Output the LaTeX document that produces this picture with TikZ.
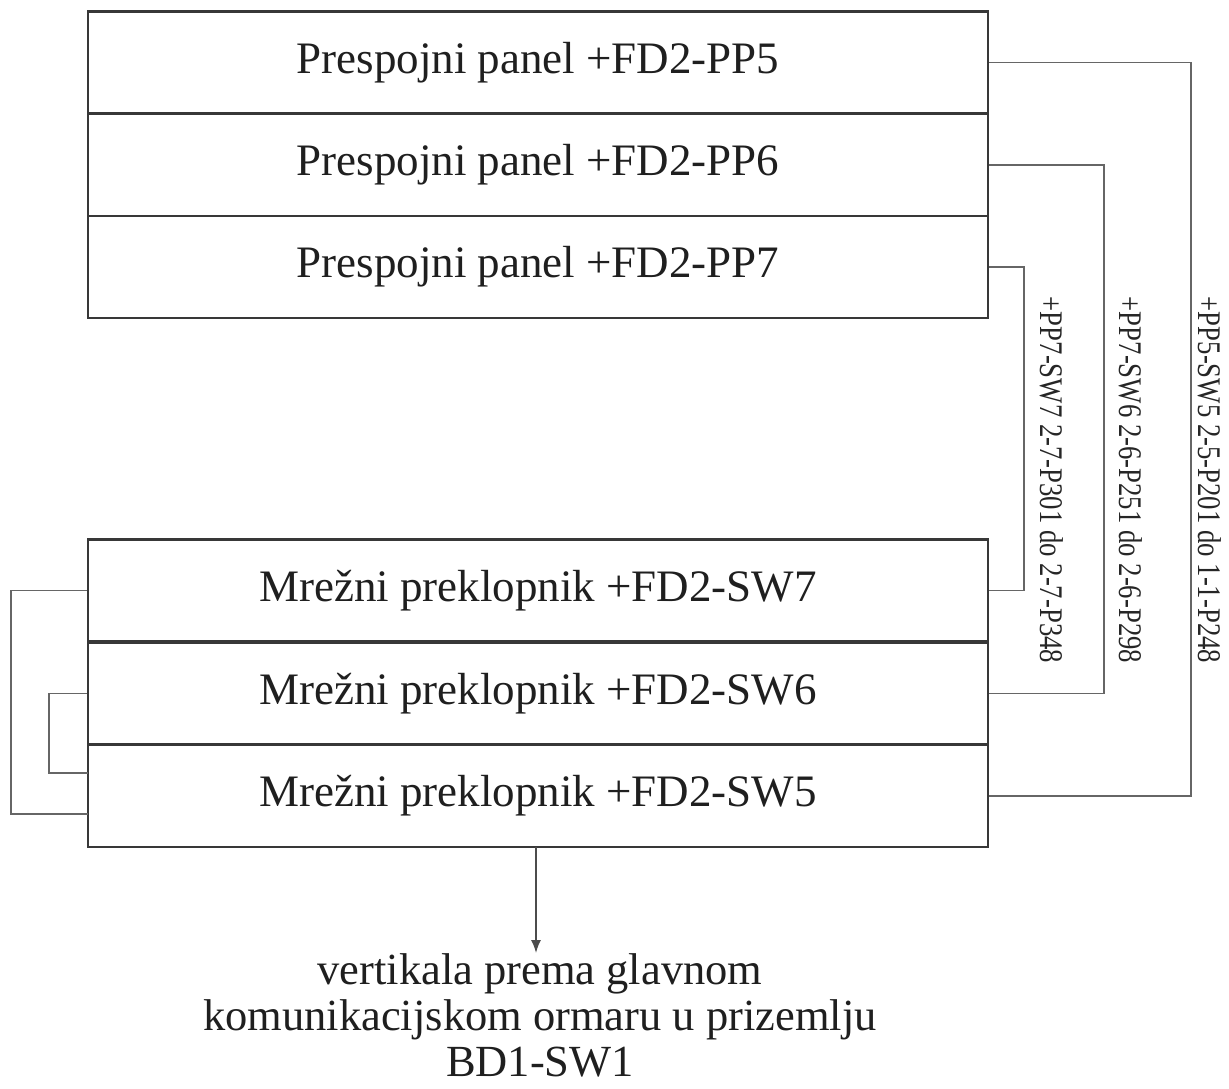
\documentclass[tikz,border=0pt]{standalone}
\usepackage{fontspec}
\setmainfont{Liberation Serif}
\usepackage{graphicx}
\usetikzlibrary{arrows.meta}
\begin{document}
\begin{tikzpicture}[x=1pt,y=-1pt,
  panelbox/.style={draw=black!78,line width=2.2pt,minimum width=900pt,minimum height=102pt,inner sep=0pt,
    font=\fontsize{45}{50}\selectfont,text=black!88},
  link/.style={draw=black!60,line width=1.6pt},
  lbl/.style={rotate=-90,inner sep=0pt,text=black!85}]
\useasboundingbox (0,0) rectangle (1229,1088);
% top group
\node[panelbox] (pp5) at (538,62.5) {Prespojni panel +FD2-PP5};
\node[panelbox] (pp6) at (538,165) {Prespojni panel +FD2-PP6};
\node[panelbox] (pp7) at (538,267) {Prespojni panel +FD2-PP7};
% bottom group
\node[panelbox] (sw7) at (538,590.5) {Mrežni preklopnik +FD2-SW7};
\node[panelbox] (sw6) at (538,693.5) {Mrežni preklopnik +FD2-SW6};
\node[panelbox] (sw5) at (538,796) {Mrežni preklopnik +FD2-SW5};
% right connectors
\draw[link] (pp5.east) -- ++(202,0) |- (sw5.east);
\draw[link] (pp6.east) -- ++(115,0) |- (sw6.east);
\draw[link] (pp7.east) -- ++(35,0) |- (sw7.east);
% left connectors
\coordinate (sw5a) at (88,814);
\coordinate (sw5b) at (88,773);
\draw[link] (sw7.west) -- ++(-76,0) |- (sw5a);
\draw[link] (sw6.west) -- ++(-38,0) |- (sw5b);
% labels
\node[lbl] (l7) at (1052,480) {\scalebox{0.81}[1]{\fontsize{33}{36}\selectfont +PP7-SW7 2-7-P301 do 2-7-P348}};
\node[lbl] (l6) at (1131,480) {\scalebox{0.81}[1]{\fontsize{33}{36}\selectfont +PP7-SW6 2-6-P251 do 2-6-P298}};
\node[lbl] (l5) at (1210,480) {\scalebox{0.81}[1]{\fontsize{33}{36}\selectfont +PP5-SW5 2-5-P201 do 1-1-P248}};
% bottom text
\node[align=center,inner sep=0pt,anchor=north,font=\fontsize{44.5}{46}\selectfont,text=black!88] (dest) at (540,953)
  {vertikala prema glavnom\\komunikacijskom ormaru u prizemlju\\BD1-SW1};
\draw[link,draw=black!70,-{Latex[length=13pt,width=10pt]}] (536,847) -- (536,953);
\end{tikzpicture}
\end{document}
